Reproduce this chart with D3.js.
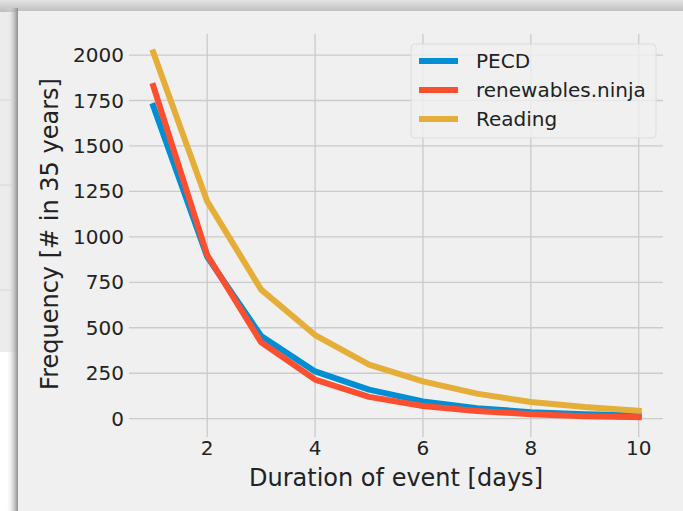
<!DOCTYPE html>
<html>
<head>
<meta charset="utf-8">
<script src="https://cdn.jsdelivr.net/npm/d3@7"></script>
<style>
  body { margin: 0; background: #ffffff; }
  svg { display: block; font-family: "DejaVu Sans", sans-serif; }
</style>
</head>
<body>
<svg width="683" height="511"></svg>
<script>
'use strict'

// event duration in days
const days = [1, 2, 3, 4, 5, 6, 7, 8, 9, 10];
// frequency (# in 35 years)
const pecd = [1720, 890, 455, 260, 160, 95, 58, 36, 24, 18];
const ninja = [1830, 900, 420, 215, 120, 70, 42, 25, 14, 8];
const reading = [2015, 1195, 710, 460, 297, 205, 138, 92, 64, 44];

const seriesNames = ['PECD', 'renewables.ninja', 'Reading'];
const seriesValues = [pecd, ninja, reading];
const colors = ['#008fd5', '#fc4f30', '#e5ae38'];

const yTicks = [0, 250, 500, 750, 1000, 1250, 1500, 1750, 2000];
const xTicks = [2, 4, 6, 8, 10];

const svg = d3.select('svg');

// ---- screenshot backdrop ----
const defs = svg.append('defs');
const gTop = defs.append('linearGradient').attr('id', 'topShade')
  .attr('x1', 0).attr('y1', 0).attr('x2', 0).attr('y2', 1);
gTop.append('stop').attr('offset', 0).attr('stop-color', '#e4e4e4');
gTop.append('stop').attr('offset', 1).attr('stop-color', '#bdbdbd');
const gLeft = defs.append('linearGradient').attr('id', 'leftShade')
  .attr('x1', 0).attr('y1', 0).attr('x2', 1).attr('y2', 0);
gLeft.append('stop').attr('offset', 0).attr('stop-color', '#ffffff').attr('stop-opacity', 0);
gLeft.append('stop').attr('offset', 1).attr('stop-color', '#8c8c8c');

svg.append('rect').attr('x', 0).attr('y', 0).attr('width', 18).attr('height', 352)
  .attr('fill', '#ececec');
[100, 185, 290].forEach(yy => {
  svg.append('line').attr('x1', 0).attr('x2', 12).attr('y1', yy).attr('y2', yy)
    .attr('stroke', '#d6d6d6');
});
svg.append('rect').attr('x', 0).attr('y', 0).attr('width', 683).attr('height', 12)
  .attr('fill', 'url(#topShade)');
svg.append('rect').attr('x', 6).attr('y', 8).attr('width', 12).attr('height', 503)
  .attr('fill', 'url(#leftShade)');
svg.append('rect').attr('x', 18).attr('y', 11).attr('width', 665).attr('height', 500)
  .attr('fill', '#f0f0f0');

// ---- scales (matplotlib style 5% margins) ----
const xExt = d3.extent(days);
const xPad = (xExt[1] - xExt[0]) * 0.05;
const yMax = d3.max(seriesValues.flat());
const yPad = yMax * 0.05;

const x = d3.scaleLinear().domain([xExt[0] - xPad, xExt[1] + xPad]).range([129, 663]);
const y = d3.scaleLinear().domain([-yPad, yMax + yPad]).range([437, 34]);

// grid
svg.append('g').selectAll('line').data(yTicks).join('line')
  .attr('x1', x.range()[0]).attr('x2', x.range()[1])
  .attr('y1', d => y(d)).attr('y2', d => y(d))
  .attr('stroke', '#cbcbcb').attr('stroke-width', 1.3);
svg.append('g').selectAll('line').data(xTicks).join('line')
  .attr('x1', d => x(d)).attr('x2', d => x(d))
  .attr('y1', y.range()[0]).attr('y2', y.range()[1])
  .attr('stroke', '#cbcbcb').attr('stroke-width', 1.3);

// tick labels
svg.append('g').selectAll('text').data(yTicks).join('text')
  .attr('x', 124).attr('y', d => y(d)).attr('dy', '0.35em')
  .attr('text-anchor', 'end').attr('font-size', 20).attr('fill', '#222')
  .text(d => d);
svg.append('g').selectAll('text').data(xTicks).join('text')
  .attr('x', d => x(d)).attr('y', 455)
  .attr('text-anchor', 'middle').attr('font-size', 20).attr('fill', '#222')
  .text(d => d);

// axis labels
svg.append('text').attr('x', 396).attr('y', 486)
  .attr('text-anchor', 'middle').attr('font-size', 24).attr('fill', '#222')
  .text('Duration of event [days]');
svg.append('text')
  .attr('transform', 'translate(50,234) rotate(-90)')
  .attr('dy', '0.35em')
  .attr('text-anchor', 'middle').attr('font-size', 24).attr('fill', '#222')
  .text('Frequency [# in 35 years]');

// lines
const line = d3.line().x((d, i) => x(days[i])).y(d => y(d));
svg.append('g').selectAll('path').data(seriesValues).join('path')
  .attr('d', d => line(d))
  .attr('fill', 'none')
  .attr('stroke', (d, i) => colors[i])
  .attr('stroke-width', 6)
  .attr('stroke-linecap', 'square')
  .attr('stroke-linejoin', 'round');

// legend
const legend = svg.append('g');
legend.append('rect').attr('x', 411).attr('y', 44).attr('width', 245).attr('height', 94)
  .attr('rx', 4).attr('fill', '#f0f0f0').attr('fill-opacity', 0.8)
  .attr('stroke', '#dcdcdc');
const rows = legend.selectAll('g').data(seriesNames).join('g')
  .attr('transform', (d, i) => `translate(0,${61 + i * 29})`);
rows.append('line').attr('x1', 419).attr('x2', 458).attr('y1', 0).attr('y2', 0)
  .attr('stroke', (d, i) => colors[i]).attr('stroke-width', 6);
rows.append('text').attr('x', 476).attr('dy', '0.35em')
  .attr('font-size', 20).attr('fill', '#222').text(d => d);
</script>
</body>
</html>
